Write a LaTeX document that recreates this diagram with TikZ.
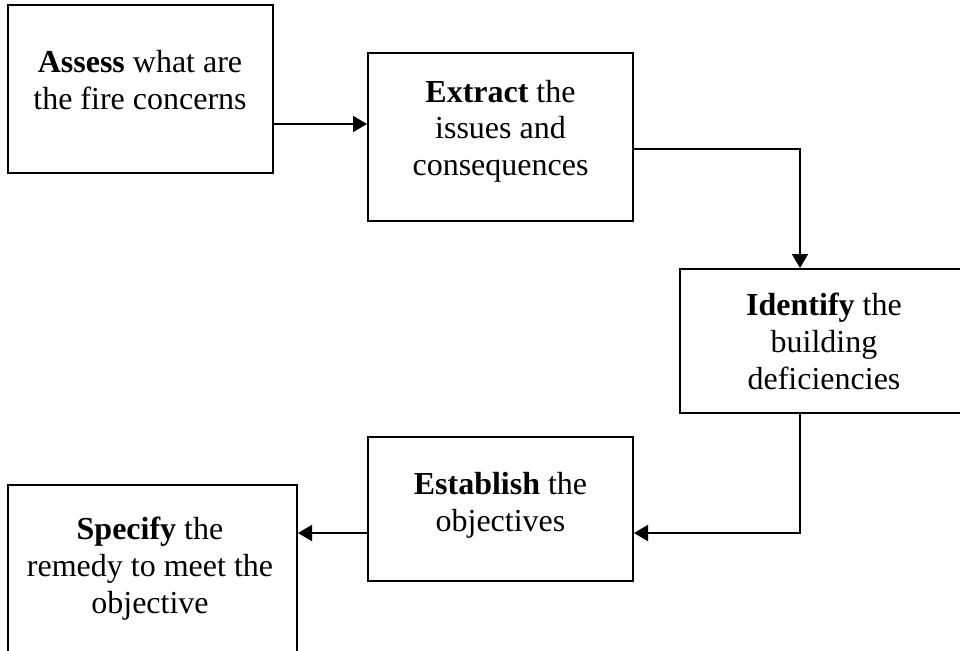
\documentclass[tikz,border=0pt]{standalone}
\usepackage{fontspec}
\setmainfont{Liberation Serif}
\usetikzlibrary{arrows.meta}
\begin{document}
\begin{tikzpicture}[x=0.5pt,y=-0.5pt,
  box/.style={draw=black, line width=1pt, rectangle, inner sep=0pt},
  txt/.style={align=center, inner sep=0pt, anchor=north, font=\fontsize{16}{18.3}\selectfont},
  arr/.style={draw=black, line width=1pt, -{Triangle[length=7pt,width=8pt]}}]
\clip (0,0) rectangle (960,650);
\fill[white] (0,0) rectangle (960,650);
% boxes
\node[box, minimum width=132.5pt, minimum height=84pt] (b1) at (140.5,89) {};
\node[box, minimum width=132.5pt, minimum height=84pt] (b2) at (500.5,137) {};
\node[box, minimum width=144pt, minimum height=72pt] (b3) at (824,341) {};
\node[box, minimum width=132.5pt, minimum height=72pt] (b4) at (500.5,509) {};
\node[box, minimum width=144.5pt, minimum height=87.5pt] (b5) at (152.5,572.5) {};
% texts
\node[txt] (t1) at (140,50) {\textbf{Assess} what are\\the fire concerns};
\node[txt] (t2) at (500.5,79.7) {\textbf{Extract} the\\issues and\\consequences};
\node[txt] (t3) at (824,293) {\textbf{Identify} the\\building\\deficiencies};
\node[txt] (t4) at (500.5,472) {\textbf{Establish} the\\objectives};
\node[txt] (t5) at (150,517) {\textbf{Specify} the\\remedy to meet the\\objective};
% connectors
\draw[arr] ([yshift=-17.5pt]b1.east) -- ([yshift=-17.5pt]b1.east -| b2.west);
\draw[arr] ([yshift=-6pt]b2.east) -| ([xshift=-12pt]b3.north);
\draw[arr] ([xshift=-12pt]b3.south) |- ([yshift=-12pt]b4.east);
\draw[arr] ([yshift=-12pt]b4.west) -- ([yshift=-12pt]b4.west -| b5.east);
\end{tikzpicture}
\end{document}
